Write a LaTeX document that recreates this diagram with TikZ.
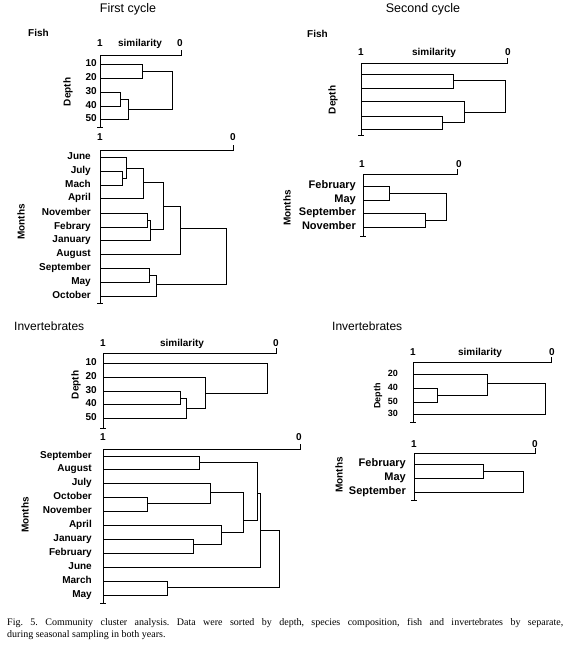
\documentclass[tikz,border=0pt]{standalone}
\usepackage{fontspec}
\setmainfont{Liberation Serif}
\newfontfamily\lsans{Liberation Sans}
\tikzset{
  lbl/.style={font=\lsans\bfseries\fontsize{10}{12}\selectfont, inner sep=0pt},
  lbls/.style={font=\lsans\bfseries\fontsize{9}{11}\selectfont, inner sep=0pt},
  lblb/.style={font=\lsans\bfseries\fontsize{11}{13}\selectfont, inner sep=0pt},
  ttl/.style={font=\lsans\fontsize{12.5}{15}\selectfont, inner sep=0pt},
  grp/.style={font=\lsans\bfseries\fontsize{10}{12}\selectfont, inner sep=0pt, anchor=mid west},
  grpi/.style={font=\lsans\fontsize{12}{14}\selectfont, inner sep=0pt, anchor=mid west},
  den/.style={line width=0.9pt, line join=miter},
  captext/.style={font=\fontsize{10}{12}\selectfont\frenchspacing, inner sep=0pt, anchor=base west},
}
\newcommand\axisframe[4]{%
  \draw[den] (#1,#4) -- (#1,#2) -- (#3,#2) -- (#3,#2-5);
  \draw[den] (#1-3,#4) -- (#1+3,#4);}
\begin{document}
\begin{tikzpicture}[x=1pt,y=-1pt]
\useasboundingbox (0,0) rectangle (567,647);
% titles
\node[ttl] (t1) at (128,9) {First cycle};
\node[ttl] (t2) at (423,9) {Second cycle};
% ---------- Panel A: first cycle fish depth
\node[grp] (gA) at (28,34) {Fish};
\node[lbl,anchor=mid] (A1) at (100,44) {1};
\node[lbl,anchor=mid] (As) at (140,44) {similarity};
\node[lbl,anchor=mid] (A0) at (180,44) {0};
\axisframe{100}{55}{181}{127}
\foreach \t/\y [count=\i] in {10/64,20/78,30/92,40/106,50/119}
  \node[lbl,anchor=mid east] (Al\i) at (97,\y) {\t};
\node[lbl,rotate=90] (Ad) at (68,92) {Depth};
\draw[den] (100,64) -| (142,78) -- (100,78);
\draw[den] (100,92) -| (120,106) -- (100,106);
\draw[den] (100,119) -| (128,99) -- (120,99);
\draw[den] (142,71) -| (172,109) -- (128,109);
% ---------- Panel B: first cycle fish months
\node[lbl,anchor=mid] (B1) at (100,138) {1};
\node[lbl,anchor=mid] (B0) at (233,138) {0};
\axisframe{100}{150}{233}{303}
\foreach \t/\y [count=\i] in {June/157,July/171,Mach/185,April/198,November/213,Febrary/227,January/240,August/254,September/268,May/282,October/296}
  \node[lbl,anchor=mid east] (Bl\i) at (91,\y) {\t};
\node[lbl,rotate=90] (Bm) at (21,222) {Months};
\draw[den] (100,171) -| (122,185) -- (100,185);
\draw[den] (100,157) -| (126,178) -- (122,178);
\draw[den] (100,198) -| (143,168) -- (126,168);
\draw[den] (100,213) -| (147,227) -- (100,227);
\draw[den] (100,240) -| (150,220) -- (147,220);
\draw[den] (143,182) -| (163,229) -- (150,229);
\draw[den] (100,254) -| (180,206) -- (163,206);
\draw[den] (100,268) -| (149,282) -- (100,282);
\draw[den] (100,296) -| (156,275) -- (149,275);
\draw[den] (180,228) -| (226,284) -- (156,284);
% ---------- Panel C: second cycle fish depth
\node[grp] (gC) at (307,35) {Fish};
\node[lbl,anchor=mid] (C1) at (361,53) {1};
\node[lbl,anchor=mid] (Cs) at (434,53) {similarity};
\node[lbl,anchor=mid] (C0) at (508,53) {0};
\axisframe{361}{63}{507}{135}
\node[lbl,rotate=90] (Cd) at (333,100) {Depth};
\draw[den] (361,74) -| (453,88) -- (361,88);
\draw[den] (361,116) -| (442,129) -- (361,129);
\draw[den] (361,101) -| (464,122) -- (442,122);
\draw[den] (453,80) -| (505,112) -- (464,112);
% ---------- Panel D: second cycle fish months
\node[lbl,anchor=mid] (D1) at (362,165) {1};
\node[lbl,anchor=mid] (D0) at (459,165) {0};
\axisframe{363}{174}{457}{236}
\foreach \t/\y [count=\i] in {February/186,May/200,September/213,November/227}
  \node[lblb,anchor=mid east] (Dl\i) at (356,\y) {\t};
\node[lbl,rotate=90] (Dm) at (287,208) {Months};
\draw[den] (363,186) -| (389,200) -- (363,200);
\draw[den] (363,213) -| (425,227) -- (363,227);
\draw[den] (389,193) -| (446,220) -- (425,220);
% ---------- Panel E: first cycle invertebrates depth
\node[grpi] (gE) at (14,328) {Invertebrates};
\node[lbl,anchor=mid] (E1) at (103,344) {1};
\node[lbl,anchor=mid] (Es) at (182,344) {similarity};
\node[lbl,anchor=mid] (E0) at (276,344) {0};
\axisframe{103}{353}{276}{428}
\foreach \t/\y [count=\i] in {10/363,20/377,30/391,40/404,50/418}
  \node[lbl,anchor=mid east] (El\i) at (97,\y) {\t};
\node[lbl,rotate=90] (Ed) at (76,385) {Depth};
\draw[den] (103,391) -| (180,404) -- (103,404);
\draw[den] (103,418) -| (186,398) -- (180,398);
\draw[den] (103,377) -| (205,408) -- (186,408);
\draw[den] (103,363) -| (267,393) -- (205,393);
% ---------- Panel F: first cycle invertebrates months
\node[lbl,anchor=mid] (F1) at (103,438) {1};
\node[lbl,anchor=mid] (F0) at (299,438) {0};
\axisframe{103}{449}{300}{603}
\foreach \t/\y [count=\i] in {September/456,August/469,July/483,October/497,November/511,April/525,January/539,February/553,June/567,March/581,May/595}
  \node[lbl,anchor=mid east] (Fl\i) at (92,\y) {\t};
\node[lbl,rotate=90] (Fm) at (25,515) {Months};
\draw[den] (103,456) -| (199,469) -- (103,469);
\draw[den] (103,497) -| (147,511) -- (103,511);
\draw[den] (103,483) -| (210,503) -- (147,503);
\draw[den] (103,539) -| (193,553) -- (103,553);
\draw[den] (103,525) -| (221,544) -- (193,544);
\draw[den] (210,492) -| (243,532) -- (221,532);
\draw[den] (199,462) -| (257,520) -- (243,520);
\draw[den] (103,567) -| (260,493) -- (257,493);
\draw[den] (103,581) -| (167,595) -- (103,595);
\draw[den] (167,587) -| (279,530) -- (260,530);
% ---------- Panel G: second cycle invertebrates depth
\node[grpi] (gG) at (332,328) {Invertebrates};
\node[lbl,anchor=mid] (G1) at (413,353) {1};
\node[lbl,anchor=mid] (Gs) at (480,353) {similarity};
\node[lbl,anchor=mid] (G0) at (552,353) {0};
\axisframe{413}{362}{551}{422}
\foreach \t/\y [count=\i] in {20/374,40/388,50/402,30/414}
  \node[lbls,anchor=mid east] (Gl\i) at (398,\y) {\t};
\node[lbls,rotate=90] (Gd) at (378,396) {Depth};
\draw[den] (413,388) -| (437,402) -- (413,402);
\draw[den] (413,374) -| (487,395) -- (437,395);
\draw[den] (413,414) -| (545,383) -- (487,383);
% ---------- Panel H: second cycle invertebrates months
\node[lbl,anchor=mid] (H1) at (414,445) {1};
\node[lbl,anchor=mid] (H0) at (535,445) {0};
\axisframe{414}{453}{535}{500}
\foreach \t/\y [count=\i] in {February/464,May/478,September/492}
  \node[lblb,anchor=mid east] (Hl\i) at (406,\y) {\t};
\node[lbl,rotate=90] (Hm) at (339,475) {Months};
\draw[den] (414,464) -| (483,478) -- (414,478);
\draw[den] (414,492) -| (523,471) -- (483,471);
% ---------- caption
\node[captext] (c1) at (7,625) {\makebox[556pt][s]{Fig. 5. Community cluster analysis. Data were sorted by depth, species composition, fish and invertebrates by separate,}};
\node[captext] (c2) at (7,637) {during seasonal sampling in both years.};
\end{tikzpicture}
\end{document}
